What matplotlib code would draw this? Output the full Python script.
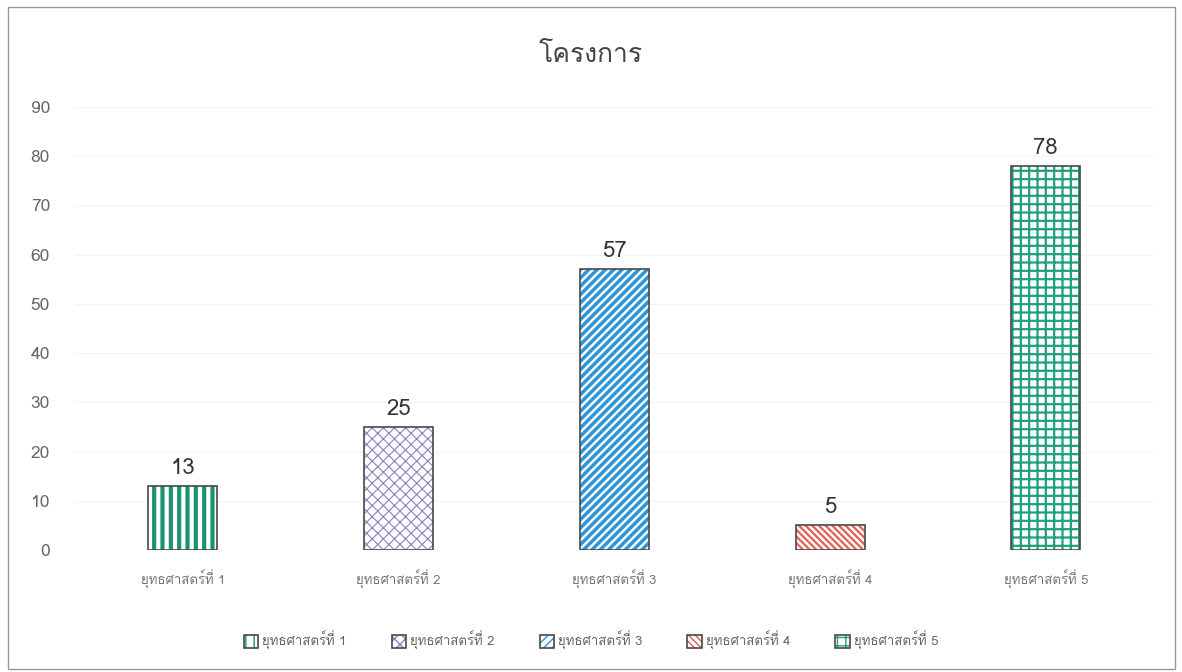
import matplotlib
matplotlib.use("Agg")
import matplotlib.pyplot as plt
from matplotlib import font_manager
from matplotlib.ft2font import FT2Font
from matplotlib.patches import Patch, Rectangle

categories = ["ยุทธศาสตร์ที่ 1", "ยุทธศาสตร์ที่ 2", "ยุทธศาสตร์ที่ 3",
              "ยุทธศาสตร์ที่ 4", "ยุทธศาสตร์ที่ 5"]
values = [13, 25, 57, 5, 78]
hatch_colors = ["#1a9270", "#8a82bf", "#2e95d8", "#e0605a", "#1fa07c"]
hatches = ["||", "xxx", "////", "\\\\\\\\\\", "++"]
hatch_widths = [3.0, 0.8, 2.5, 1.6, 1.6]
title = "โครงการ"


def thai_family():
    # look for any installed font that has Thai glyphs
    for f in font_manager.fontManager.ttflist:
        try:
            cmap = FT2Font(f.fname).get_charmap()
        except Exception:
            continue
        if 0x0E22 in cmap and 0x0E17 in cmap:
            return f.name
    return None


fam = thai_family()
families = ([fam] if fam else []) + ["DejaVu Sans"]
plt.rcParams["font.family"] = families

fig = plt.figure(figsize=(11.82, 6.72), dpi=100)
ax = fig.add_axes([0.0635, 0.1815, 0.9125, 0.6595])

x = list(range(len(categories)))
handles = []
for i, v in enumerate(values):
    with plt.rc_context({"hatch.linewidth": hatch_widths[i]}):
        ax.bar(x[i], v, width=0.32, color="white", edgecolor=hatch_colors[i],
               hatch=hatches[i], linewidth=0, zorder=2)
    ax.bar(x[i], v, width=0.32, fill=False, edgecolor="#484848", linewidth=1.2, zorder=3)
    ax.text(x[i], v + 1.5, str(v), ha="center", va="bottom", fontsize=16, color="#333333")
    with plt.rc_context({"hatch.linewidth": min(hatch_widths[i], 1.5)}):
        p = Patch(facecolor="white", edgecolor=hatch_colors[i], hatch=hatches[i], linewidth=0)
    handles.append((p, Patch(fill=False, edgecolor="#484848", linewidth=1.2)))

ax.set_xlim(-0.5, 4.5)
ax.set_ylim(0, 90)
ax.set_yticks(range(0, 91, 10))
ax.set_xticks(x)
ax.set_xticklabels(categories, fontsize=9.5, color="#777777")
ax.tick_params(axis="y", labelsize=12.5, colors="#666666", length=0, pad=18)
ax.tick_params(axis="x", length=0, pad=14)
ax.grid(axis="y", color="#f3f3f3", linewidth=0.8, zorder=0)
for s in ax.spines.values():
    s.set_visible(False)

fig.text(0.5, 0.918, title, ha="center", va="center", fontsize=19, color="#444444")

fig.legend(handles, categories, loc="center", bbox_to_anchor=(0.5, 0.047), ncol=5,
           frameon=False, fontsize=9.5, labelcolor="#666666", handlelength=1.1,
           handleheight=1.1, handletextpad=0.3, columnspacing=3.4)

fig.patches.append(Rectangle((0.007, 0.005), 0.987, 0.985, transform=fig.transFigure,
                             fill=False, edgecolor="#999999", linewidth=1.0))

fig.savefig("out.png", dpi=100)
